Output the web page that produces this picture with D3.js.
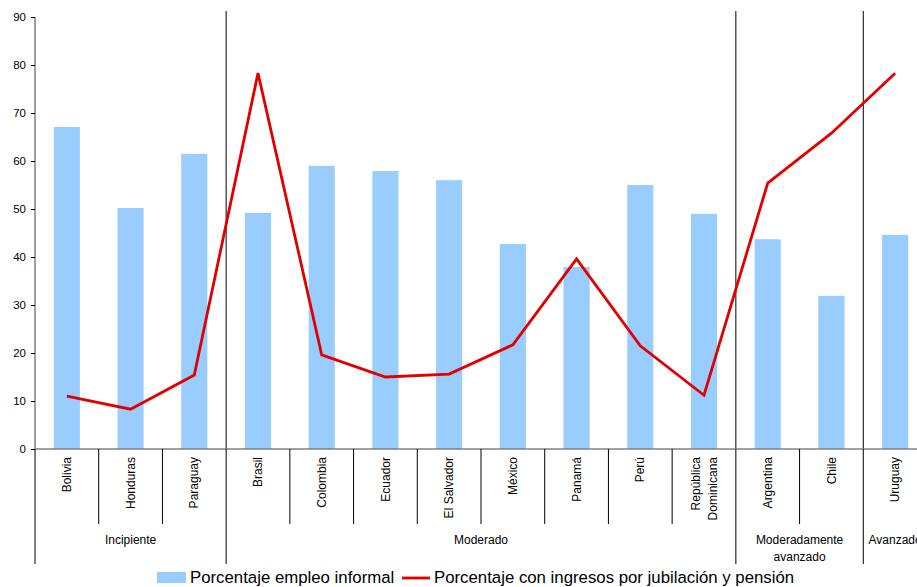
<!DOCTYPE html>
<html><head><meta charset="utf-8">
<script src="https://cdn.jsdelivr.net/npm/d3@7"></script>
<style>
html,body{margin:0;padding:0;background:#fff;overflow:hidden;}
svg{display:block;font-family:"Liberation Sans",Arial,sans-serif;}
</style></head>
<body>
<script>
const countries = ["Bolivia","Honduras","Paraguay","Brasil","Colombia","Ecuador","El Salvador","México","Panamá","Perú","República Dominicana","Argentina","Chile","Uruguay"];
const countryLines = [["Bolivia"],["Honduras"],["Paraguay"],["Brasil"],["Colombia"],["Ecuador"],["El Salvador"],["México"],["Panamá"],["Perú"],["República","Dominicana"],["Argentina"],["Chile"],["Uruguay"]];
const informal = [67.1, 50.2, 61.5, 49.2, 59.0, 57.9, 56.0, 42.7, 37.9, 55.0, 49.0, 43.7, 31.9, 44.6];
const pension  = [11.0, 8.3, 15.4, 78.3, 19.6, 15.0, 15.6, 21.7, 39.6, 21.5, 11.2, 55.4, 65.8, 78.3];
const groupNames = [["Incipiente"],["Moderado"],["Moderadamente","avanzado"],["Avanzado"]];
const groupSizes = [3, 8, 2, 1];
const yTicks = [0,10,20,30,40,50,60,70,80,90];
const legendLabels = ["Porcentaje empleo informal","Porcentaje con ingresos por jubilación y pensión"];

const W = 917, H = 587;
const svg = d3.select("body").append("svg").attr("width", W).attr("height", H);

const x = d3.scaleBand().domain(countries).range([35, 927]).padding(0);
const y = d3.scaleLinear().domain([0, 90]).range([449, 17]);
const barW = x.bandwidth() * 0.41;
const cx = c => x(c) + x.bandwidth() / 2;

// bars
svg.append("g").selectAll("rect").data(countries).join("rect")
  .attr("x", c => cx(c) - barW / 2)
  .attr("width", barW)
  .attr("y", (c, i) => y(informal[i]))
  .attr("height", (c, i) => y(0) - y(informal[i]))
  .attr("fill", "#99ccff");

// group boundaries
let bounds = [];
let acc = 0;
groupSizes.forEach(s => { bounds.push(acc); acc += s; });
bounds.push(acc);
const bx = k => k < countries.length ? x(countries[k]) : x.range()[1];

// separators in plot area
svg.append("g").selectAll("line").data(bounds.slice(1, -1)).join("line")
  .attr("x1", k => bx(k)).attr("x2", k => bx(k))
  .attr("y1", 11).attr("y2", 449)
  .attr("stroke", "#000").attr("stroke-width", 1);

// line
const line = d3.line().x((d, i) => cx(countries[i])).y(d => y(d));
svg.append("path").datum(pension).attr("d", line)
  .attr("fill", "none").attr("stroke", "#e00000").attr("stroke-width", 2.8)
  .attr("stroke-linejoin", "miter");

// y axis
const yAxis = d3.axisLeft(y).tickValues(yTicks).tickSize(4).tickPadding(5);
const ga = svg.append("g").attr("transform", "translate(35,0)").call(yAxis);
ga.select(".domain").attr("stroke", "#808080").attr("stroke-width", 1.5).attr("d", "M0,17V449");
ga.selectAll(".tick line").attr("stroke", "#000");
ga.selectAll(".tick text").attr("font-size", 11.5).attr("fill", "#000").attr("font-family", "Liberation Sans, Arial, sans-serif");

// x axis line
svg.append("line").attr("x1", 35).attr("x2", 927).attr("y1", 449).attr("y2", 449)
  .attr("stroke", "#808080").attr("stroke-width", 1.5);

// category separators below axis
const innerTicks = d3.range(1, countries.length).filter(k => !bounds.includes(k));
svg.append("g").selectAll("line").data(innerTicks).join("line")
  .attr("x1", k => bx(k)).attr("x2", k => bx(k))
  .attr("y1", 449).attr("y2", 524)
  .attr("stroke", "#000").attr("stroke-width", 1);
svg.append("g").selectAll("line").data(bounds).join("line")
  .attr("x1", k => bx(k)).attr("x2", k => bx(k))
  .attr("y1", 449).attr("y2", 564)
  .attr("stroke", "#000").attr("stroke-width", 1);

// country labels
const cl = svg.append("g").selectAll("text").data(countries).join("text")
  .attr("transform", c => `translate(${cx(c)},457) rotate(-90)`)
  .attr("text-anchor", "end").attr("font-size", 12).attr("fill", "#000");
cl.each(function(c, i) {
  const lines = countryLines[i];
  const n = lines.length;
  d3.select(this).selectAll("tspan").data(lines).join("tspan")
    .attr("x", 0)
    .attr("y", (l, j) => (j - (n - 1) / 2) * 17)
    .attr("dy", "0.35em")
    .text(l => l);
});

// group labels
groupNames.forEach((g, i) => {
  const mid = (bx(bounds[i]) + bx(bounds[i + 1])) / 2;
  const t = svg.append("text").attr("x", mid).attr("y", 544)
    .attr("text-anchor", "middle").attr("font-size", 12).attr("fill", "#000");
  g.forEach((l, j) => t.append("tspan").attr("x", mid).attr("y", 544 + j * 17).text(l));
});

// legend
svg.append("rect").attr("x", 157).attr("y", 572).attr("width", 29).attr("height", 11).attr("fill", "#99ccff");
svg.append("text").attr("x", 190).attr("y", 583).attr("font-size", 16.8).attr("fill", "#000").text(legendLabels[0]);
svg.append("line").attr("x1", 402).attr("x2", 430).attr("y1", 578).attr("y2", 578)
  .attr("stroke", "#e00000").attr("stroke-width", 2.8);
svg.append("text").attr("x", 434).attr("y", 583).attr("font-size", 16.8).attr("fill", "#000").text(legendLabels[1]);
</script>
</body></html>
